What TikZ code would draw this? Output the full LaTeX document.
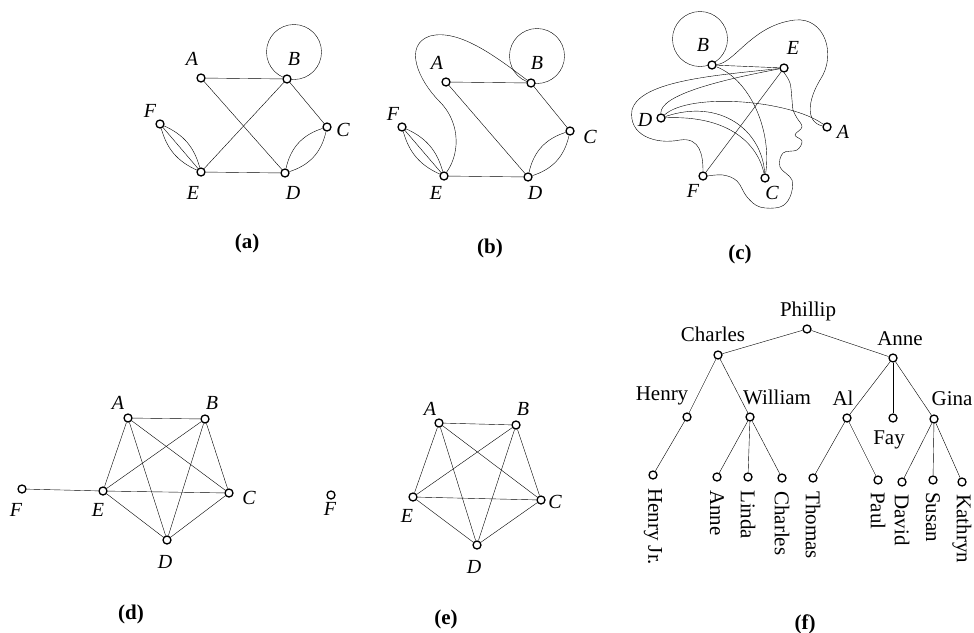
\documentclass[tikz,border=0pt]{standalone}
\usepackage{fontspec}
\setmainfont{Liberation Serif}
\newcommand\lblfnt{\fontsize{20}{20}\selectfont\itshape}
\newcommand\treefnt{\fontsize{21}{21}\selectfont}
\newcommand\capfnt{\fontsize{21}{21}\selectfont\bfseries}
\pgfdeclarelayer{bg}\pgfsetlayers{bg,main}
\tikzset{
 vtx/.style={circle,draw,fill=white,inner sep=0pt,minimum size=8pt,line width=1.3pt},
 lbl/.style={font=\lblfnt,inner sep=0pt},
 tlbl/.style={font=\treefnt,inner sep=0pt},
 leaflbl/.style={font=\treefnt,inner sep=0pt,rotate=-90,anchor=west},
 captxt/.style={font=\capfnt,inner sep=0pt},
}
\begin{document}
\begin{tikzpicture}[x=1pt,y=-1pt,line width=1.3pt]
\useasboundingbox (0,0) rectangle (974,632);

% ---------------- (a)
\node[vtx] (aA) at (201,78) {};
\node[vtx] (aB) at (287,79) {};
\node[vtx] (aC) at (327,127) {};
\node[vtx] (aD) at (285,173) {};
\node[vtx] (aE) at (201,172) {};
\node[vtx] (aF) at (160,124) {};
\node[lbl] (laA) at (192,59) {A};
\node[lbl] (laB) at (294,59) {B};
\node[lbl] (laC) at (343,130) {C};
\node[lbl] (laD) at (293,193) {D};
\node[lbl] (laE) at (193,193) {E};
\node[lbl] (laF) at (150,111) {F};
\begin{pgfonlayer}{bg}
\draw (aB) ++(7,-27) circle[radius=27.5pt];
\end{pgfonlayer}
\draw (aA) -- (aB);
\draw (aA) -- (aD);
\draw (aB) -- (aE);
\draw (aB) -- (aC);
\draw (aE) -- (aD);
\draw (aC) to[bend left=30] (aD);
\draw (aC) to[bend right=30] (aD);
\draw (aF) -- (aE);
\draw (aF) to[bend left=25] (aE);
\draw (aF) to[bend right=25] (aE);
\node[captxt] (capa) at (247,243) {(a)};

% ---------------- (b)
\node[vtx] (bA) at (446,82) {};
\node[vtx] (bB) at (531,83) {};
\node[vtx] (bC) at (570,131) {};
\node[vtx] (bD) at (528,177) {};
\node[vtx] (bE) at (444,176) {};
\node[vtx] (bF) at (402,127) {};
\node[lbl] (lbA) at (437,63) {A};
\node[lbl] (lbB) at (537,63) {B};
\node[lbl] (lbC) at (590,137) {C};
\node[lbl] (lbD) at (535,193) {D};
\node[lbl] (lbE) at (436,193) {E};
\node[lbl] (lbF) at (393,114) {F};
\begin{pgfonlayer}{bg}
\draw (bB) ++(6,-27) circle[radius=27.5pt];
\end{pgfonlayer}
\draw (bA) -- (bB);
\draw (bA) -- (bD);
\draw (bB) -- (bC);
\draw (bE) -- (bD);
\draw (bC) to[bend left=30] (bD);
\draw (bC) to[bend right=30] (bD);
\draw (bF) -- (bE);
\draw (bF) to[bend left=25] (bE);
\draw (bF) to[bend right=25] (bE);
\draw (bE) .. controls (462,150) and (458,120) .. (440,102)
      .. controls (418,80) and (403,45) .. (430,36)
      .. controls (460,28) and (500,60) .. (bB);
\node[captxt] (capb) at (490,248) {(b)};

% ---------------- (c)
\node[vtx] (cB) at (712,65) {};
\node[vtx] (cE) at (784,68) {};
\node[vtx] (cD) at (661,118) {};
\node[vtx] (cA) at (827,127) {};
\node[vtx] (cF) at (703,176) {};
\node[vtx] (cC) at (765,178) {};
\node[lbl] (lcB) at (703,45) {B};
\node[lbl] (lcE) at (793,48) {E};
\node[lbl] (lcD) at (645,120) {D};
\node[lbl] (lcA) at (843,132) {A};
\node[lbl] (lcF) at (693,191) {F};
\node[lbl] (lcC) at (772,193) {C};
\begin{pgfonlayer}{bg}
\draw (cB) ++(-12,-26) circle[radius=27.5pt];
\end{pgfonlayer}
\draw (cB) -- (cE);
\draw (cB) .. controls (750,80) and (772,130) .. (cC);
\draw (cB) .. controls (735,63) and (752,25) .. (795,20)
      .. controls (825,17) and (837,55) .. (820,80)
      .. controls (808,100) and (805,122) .. (cA);
\draw (cE) -- (cF);
\draw (cE) .. controls (720,75) and (640,80) .. (632,110)
      .. controls (628,135) and (655,145) .. (680,140)
      .. controls (700,137) and (703,155) .. (cF);
\draw plot[smooth,tension=0.6] coordinates {(cF.east) (723,175) (737,181) (747,197) (760,207) (780,207) (790,197) (792,180) (780,167) (783,153) (797,150) (802,141) (795,135) (802,127) (797,118) (793,110) (792,100) (790,83) (cE.south)};
\draw (cD) .. controls (660,95) and (720,80) .. (cE);
\draw (cD) .. controls (690,92) and (790,100) .. (cA);
\draw (cD) .. controls (720,98) and (762,130) .. (cC);
\draw (cD) .. controls (730,115) and (758,145) .. (cC);
\node[captxt] (capc) at (740,254) {(c)};

% ---------------- (d)
\node[vtx] (dA) at (128,418) {};
\node[vtx] (dB) at (205,419) {};
\node[vtx] (dC) at (229,493) {};
\node[vtx] (dD) at (167,540) {};
\node[vtx] (dE) at (103,491) {};
\node[vtx] (dF) at (22,489) {};
\node[lbl] (ldA) at (118,403) {A};
\node[lbl] (ldB) at (212,403) {B};
\node[lbl] (ldC) at (249,498) {C};
\node[lbl] (ldD) at (165,562) {D};
\node[lbl] (ldE) at (98,510) {E};
\node[lbl] (ldF) at (16,510) {F};
\foreach \u/\v in {A/B,A/C,A/D,A/E,B/C,B/D,B/E,C/D,C/E,D/E,E/F}
  \draw (d\u) -- (d\v);
\node[captxt] (capd) at (131,614) {(d)};

% ---------------- (e)
\node[vtx] (eA) at (439,423) {};
\node[vtx] (eB) at (516,425) {};
\node[vtx] (eC) at (541,500) {};
\node[vtx] (eD) at (477,545) {};
\node[vtx] (eE) at (413,497) {};
\node[vtx] (eF) at (331,495) {};
\node[lbl] (leA) at (430,409) {A};
\node[lbl] (leB) at (523,409) {B};
\node[lbl] (leC) at (555,502) {C};
\node[lbl] (leD) at (474,567) {D};
\node[lbl] (leE) at (407,516) {E};
\node[lbl] (leF) at (330,509) {F};
\foreach \u/\v in {A/B,A/C,A/D,A/E,B/C,B/D,B/E,C/D,C/E,D/E}
  \draw (e\u) -- (e\v);
\node[captxt] (cape) at (446,619) {(e)};

% ---------------- (f)
\node[vtx] (fPh) at (807,329) {};
\node[vtx] (fCh) at (718,355) {};
\node[vtx] (fAn) at (893,358) {};
\node[vtx] (fHe) at (687,417) {};
\node[vtx] (fWi) at (750,417) {};
\node[vtx] (fAl) at (847,418) {};
\node[vtx] (fFa) at (893,418) {};
\node[vtx] (fGi) at (934,419) {};
\node[vtx] (fHJ) at (653,475) {};
\node[vtx] (fAn2) at (717,477) {};
\node[vtx] (fLi) at (748,477) {};
\node[vtx] (fCh2) at (782,478) {};
\node[vtx] (fTh) at (813,478) {};
\node[vtx] (fPa) at (878,480) {};
\node[vtx] (fDa) at (902,482) {};
\node[vtx] (fSu) at (933,480) {};
\node[vtx] (fKa) at (962,482) {};
\node[tlbl] (lPh) at (808,311) {Phillip};
\node[tlbl] (lCh) at (713,334) {Charles};
\node[tlbl] (lAn) at (900,339) {Anne};
\node[tlbl] (lHe) at (662,396) {Henry};
\node[tlbl] (lWi) at (777,397) {William};
\node[tlbl] (lAl) at (843,398) {Al};
\node[tlbl] (lGi) at (952,399) {Gina};
\node[tlbl] (lFa) at (889,440) {Fay};
\node[leaflbl] (lHJ) at (653,488) {Henry Jr.};
\node[leaflbl] (lAn2) at (717,490) {Anne};
\node[leaflbl] (lLi) at (748,490) {Linda};
\node[leaflbl] (lCh2) at (782,491) {Charles};
\node[leaflbl] (lTh) at (813,491) {Thomas};
\node[leaflbl] (lPa) at (878,492) {Paul};
\node[leaflbl] (lDa) at (902,494) {David};
\node[leaflbl] (lSu) at (933,492) {Susan};
\node[leaflbl] (lKa) at (962,494) {Kathryn};
\foreach \u/\v in {Ph/Ch,Ph/An,Ch/He,Ch/Wi,He/HJ,Wi/An2,Wi/Li,Wi/Ch2,An/Al,An/Fa,An/Gi,Al/Th,Al/Pa,Gi/Da,Gi/Su,Gi/Ka}
  \draw (f\u) -- (f\v);
\node[captxt] (capf) at (805,624) {(f)};
\end{tikzpicture}
\end{document}
